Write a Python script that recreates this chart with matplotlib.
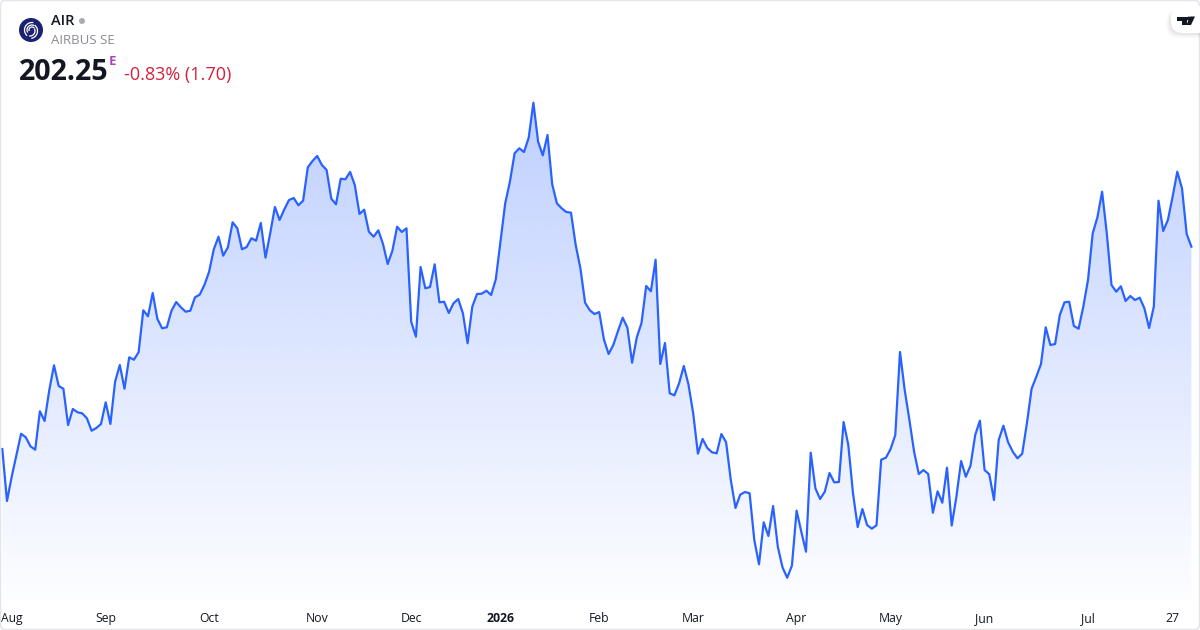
import matplotlib
matplotlib.use("Agg")
import matplotlib.pyplot as plt
import numpy as np
from matplotlib.patches import Arc, Circle, FancyBboxPatch, Polygon

plt.rcParams['font.family'] = ['Open Sans', 'DejaVu Sans']

closes = [
    175.27, 168.34, 171.58, 174.47, 177.31, 176.83, 175.63, 175.18, 180.30, 179.01,
    183.14, 186.43, 183.67, 183.31, 178.47, 180.61, 180.17, 180.03, 179.37, 177.71,
    178.07, 178.61, 181.50, 178.61, 184.25, 186.47, 183.31, 187.50, 187.18, 188.17,
    193.77, 192.97, 196.07, 192.61, 191.37, 191.50, 193.71, 194.87, 194.17, 193.58,
    193.71, 195.50, 195.85, 197.14, 198.91, 201.90, 203.58, 201.05, 202.17, 205.50,
    204.70, 201.90, 202.21, 203.37, 203.05, 205.41, 200.78, 204.03, 207.54, 205.81,
    207.23, 208.47, 208.74, 207.77, 208.38, 212.83, 213.67, 214.34, 213.14, 212.47,
    208.65, 207.90, 211.31, 211.23, 212.21, 210.47, 206.61, 207.18, 204.25, 203.58,
    204.43, 202.61, 199.94, 201.71, 204.91, 204.21, 204.70, 192.25, 190.25, 199.54,
    196.70, 196.87, 199.90, 194.83, 194.91, 193.41, 194.70, 195.27, 193.37, 189.37,
    194.25, 195.94, 195.98, 196.38, 195.81, 197.90, 202.91, 208.03, 210.91, 214.70,
    215.37, 214.87, 216.78, 221.45, 216.25, 214.43, 217.14, 210.57, 208.03, 207.37,
    206.87, 206.78, 202.47, 199.37, 194.78, 193.77, 193.27, 193.54, 189.90, 187.94,
    189.14, 191.01, 192.78, 191.45, 186.78, 190.17, 192.07, 197.01, 196.30, 200.51,
    186.61, 189.41, 182.70, 182.43, 184.03, 186.34, 183.85, 180.03, 174.65, 176.61,
    175.41, 174.83, 174.70, 177.27, 176.17, 171.14, 167.41, 169.18, 169.54, 169.37,
    163.14, 159.90, 165.50, 163.67, 167.67, 162.25, 159.50, 158.11, 159.71, 167.05,
    164.25, 161.58, 174.78, 170.03, 168.61, 169.58, 172.07, 170.83, 170.87, 178.87,
    175.81, 169.37, 164.87, 167.27, 165.14, 164.65, 165.10, 173.85, 174.11, 175.27,
    177.14, 188.21, 183.14, 179.14, 174.91, 171.94, 172.47, 171.94, 166.78, 169.63,
    168.11, 172.78, 165.07, 168.91, 173.67, 171.58, 173.05, 177.14, 179.05, 172.47,
    171.90, 168.47, 176.47, 178.38, 176.17, 174.91, 174.03, 174.65, 178.70, 183.31,
    184.91, 186.61, 191.50, 189.14, 189.27, 193.14, 194.83, 194.91, 191.67, 191.31,
    194.25, 197.81, 204.03, 206.17, 209.58, 204.03, 197.14, 196.25, 196.97, 195.01,
    195.67, 195.14, 195.45, 194.03, 191.41, 194.25, 208.38, 204.34, 205.81, 208.91,
    212.25, 210.03, 203.94, 202.25,
]
tick_idx = [22, 44, 67, 87, 106, 127, 147, 169, 189, 209, 231, 249]
tick_labels = ['Sep', 'Oct', 'Nov', 'Dec', '2026', 'Feb', 'Mar', 'Apr', 'May', 'Jun', 'Jul', '27']

LINE = '#2962ff'

fig = plt.figure(figsize=(12, 6.3), dpi=100)
ax = fig.add_axes([0, 0, 1, 1])

x = np.arange(len(closes))
y = np.array(closes)

# vertical gradient, clipped to the area under the line
base = 155.0
grad = np.zeros((256, 1, 4))
grad[:, 0, :3] = [41 / 255, 98 / 255, 1.0]
grad[:, 0, 3] = np.linspace(0.30, 0.01, 256)
im = ax.imshow(grad, extent=[x[0], x[-1], base, y.max()], aspect='auto', zorder=1,
               interpolation='bilinear')
ax.set_xlim(-0.489, 254.83)
ax.set_ylim(151.14, 235.14)
ax.axis('off')
clip = Polygon(np.vstack([[x[0], 151.14], np.column_stack([x, y]), [x[-1], 151.14]]),
               transform=ax.transData, fc='none', ec='none')
ax.add_patch(clip)
im.set_clip_path(clip)
ax.plot(x, y, color=LINE, lw=1.6, zorder=3, solid_joinstyle='round')

trans = ax.get_xaxis_transform()
label_y = 1 - 618.6 / 630
ax.text(1 / 1200, label_y, 'Aug', transform=ax.transAxes, fontsize=8.7, color='#131722',
        ha='left', va='center')
for i, lab in zip(tick_idx, tick_labels):
    ax.text(i, label_y, lab, transform=trans, fontsize=8.8, ha='center', va='center',
            color='#131722', fontweight='bold' if lab == '2026' else 'normal')

# header and frame drawn in pixel coordinates
ov = fig.add_axes([0, 0, 1, 1])
ov.set_xlim(0, 1200)
ov.set_ylim(630, 0)
ov.axis('off')
ov.patch.set_alpha(0)

ov.add_patch(FancyBboxPatch((0.5, 0.5), 1199, 629, boxstyle='round,pad=0,rounding_size=5',
                            fc='none', ec='#e3e5ea', lw=1.1))

ov.add_patch(Circle((31, 30), 12, fc='#1c2272', ec='none'))
for w, h, start, end in [(15, 15, 150, 300), (10, 10, 170, 320), (6, 6, 180, 340)]:
    ov.add_patch(Arc((32, 30), w, h, angle=-20, theta1=start, theta2=end, color='white', lw=0.9))
for w, h, start, end in [(15, 15, 330, 100), (10, 10, 350, 120)]:
    ov.add_patch(Arc((30, 31), w, h, angle=-20, theta1=start, theta2=end, color='white', lw=0.9))

ov.text(51, 21, 'AIR', fontsize=10.5, fontweight='semibold', color='#131722', va='center', ha='left')
ov.add_patch(Circle((82, 21), 3, fc='#a9acb3', ec='none'))
ov.text(51, 41, 'AIRBUS SE', fontsize=9.5, color='#8a8d94', va='center', ha='left')
ov.text(18.5, 72, '202.25', fontsize=20.6, fontweight='bold', color='#131722', va='center', ha='left')
ov.text(109, 61.5, 'E', fontsize=9.5, fontweight='bold', color='#ab47bc', va='center', ha='left')
ov.text(124, 75.3, '-0.83% (1.70)', fontsize=12.95, color='#d5203e', va='center', ha='left')

# TradingView badge, soft shadow first
for pad, alpha in [(5, 0.02), (3.5, 0.03), (2, 0.04)]:
    ov.add_patch(FancyBboxPatch((1171 - pad, 10), 60, 23 + pad,
                                boxstyle='round,pad=0,rounding_size=12', fc='black',
                                ec='none', alpha=alpha))
ov.add_patch(FancyBboxPatch((1171, 6), 60, 27, boxstyle='round,pad=0,rounding_size=12',
                            fc='white', ec='none'))
ov.add_patch(Polygon([(1177, 16.5), (1186.5, 16.5), (1186.5, 25), (1182, 25), (1182, 21), (1177, 21)],
                     fc='#131722', ec='none'))
ov.add_patch(Circle((1188.6, 18.6), 2, fc='#131722', ec='none'))
ov.add_patch(Polygon([(1190, 16.5), (1195, 16.5), (1191, 25), (1186.5, 25)], fc='#131722', ec='none'))

fig.savefig('out.png', dpi=100)
